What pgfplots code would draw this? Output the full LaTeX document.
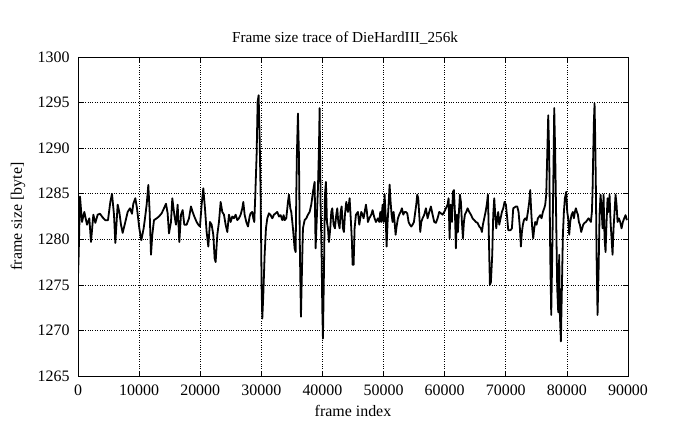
\documentclass[border=0pt]{standalone}
\usepackage{fontspec}
\setmainfont{Liberation Serif}
\usepackage{pgfplots}
\pgfplotsset{compat=1.18}
\begin{document}
\fontsize{16}{18}\selectfont
\begin{tikzpicture}
\begin{axis}[
  scale only axis, width=550bp, height=319bp,
  xmin=0, xmax=90000, ymin=1265, ymax=1300,
  xtick={0,10000,...,90000}, ytick={1265,1270,...,1300},
  scaled x ticks=false,
  /pgf/number format/assume math mode=true,
  /pgf/number format/1000 sep={},
  grid=major, grid style={black, dotted, line width=0.6pt},
  tick align=inside, major tick length=5bp, tick style={black, line width=0.6pt},
  axis line style={line width=0.8pt},
  every tick label/.append style={font=\fontsize{16}{18}\selectfont},
  xticklabel style={yshift=-3bp},
  yticklabel style={xshift=-3bp},
  every axis title shift=0pt,
  title={Frame size trace of DieHardIII\_256k},
  title style={at={(axis description cs:0.4855,1.0596)}, anchor=center, font=\fontsize{15.3}{17}\selectfont},
  xlabel={frame index}, ylabel={frame size [byte]},
  xlabel style={at={(axis description cs:0.5,-0.1097)}, anchor=center, font=\fontsize{16}{18}\selectfont},
  ylabel style={at={(axis description cs:-0.109,0.5)}, anchor=center, font=\fontsize{16}{18}\selectfont},
]
\addplot[black, line width=1.8pt, line join=round] table {
x y
0 1275.9
110 1278.3
327 1284.7
654 1281.9
1036 1283.0
1472 1281.6
1854 1282.3
2127 1279.7
2508 1282.7
2836 1281.8
3218 1282.7
3599 1282.8
4036 1282.4
4472 1282.1
4908 1282.1
5290 1284.1
5562 1285.0
5890 1282.7
6108 1279.6
6490 1283.8
6762 1283.0
7035 1281.6
7308 1280.7
7744 1281.9
8126 1283.0
8507 1283.4
8834 1282.8
9052 1283.9
9380 1284.5
9652 1283.4
10034 1281.2
10361 1279.9
10743 1281.2
10961 1282.3
11234 1283.8
11507 1285.96
11725 1283.0
11943 1278.3
12161 1280.5
12434 1282.1
12870 1282.3
13252 1282.5
13688 1282.85
14070 1283.4
14397 1283.9
14670 1282.85
14888 1280.65
15215 1281.9
15433 1284.5
15760 1282.7
16033 1281.6
16306 1283.8
16578 1279.7
16851 1282.7
17124 1283.2
17396 1281.6
17778 1281.6
18160 1282.3
18487 1283.6
18760 1283.0
19032 1282.5
19414 1281.9
19687 1281.6
19960 1281.4
20232 1283.8
20505 1285.6
20778 1283.4
21050 1280.8
21323 1279.2
21596 1281.9
21869 1281.6
22141 1280.5
22359 1277.9
22523 1277.5
22796 1280.5
23068 1281.9
23341 1284.1
23614 1283.0
23886 1282.7
24159 1281.6
24432 1280.8
24704 1282.7
24977 1281.9
25250 1282.5
25522 1282.3
25795 1282.7
26068 1282.1
26340 1282.3
26613 1282.7
26886 1283.4
27049 1284.1
27268 1282.7
27540 1281.9
27813 1281.4
28086 1282.5
28249 1282.85
28522 1283.0
28686 1282.3
28849 1281.9
29013 1284.9
29231 1289.3
29395 1295.1
29558 1295.8
29722 1291.1
29885 1284.9
30049 1274.6
30158 1271.3
30322 1273.9
30540 1278.3
30758 1281.2
30976 1282.3
31249 1282.85
31522 1282.65
31794 1282.3
32067 1282.7
32340 1282.85
32612 1283.0
32885 1282.5
33158 1282.65
33430 1282.1
33648 1282.65
33811 1282.1
34083 1282.3
34356 1284.1
34520 1284.9
34737 1283.4
34901 1283.0
35174 1281.2
35446 1279.0
35610 1278.6
35719 1284.9
35828 1289.6
35992 1293.8
36155 1289.2
36319 1278.3
36483 1271.5
36646 1276.5
36810 1281.2
37083 1282.1
37355 1282.3
37628 1282.7
37901 1283.0
38173 1283.8
38446 1285.2
38719 1286.3
38882 1279.0
39100 1282.7
39264 1285.6
39428 1290.0
39537 1294.4
39700 1283.8
39864 1278.3
39973 1272.4
40082 1269.1
40246 1276.4
40409 1284.9
40573 1286.3
40736 1281.9
40900 1281.2
41064 1279.7
41282 1281.2
41446 1283.0
41609 1283.4
41827 1281.6
42045 1281.2
42263 1282.7
42427 1283.4
42591 1281.9
42809 1281.2
42972 1283.0
43136 1283.6
43354 1281.2
43518 1280.8
43681 1282.7
43899 1284.1
44172 1283.0
44445 1284.5
44663 1281.9
44826 1279.7
44935 1277.2
45099 1277.2
45263 1281.2
45481 1282.7
45808 1283.0
46026 1281.6
46190 1282.3
46354 1283.0
46572 1282.7
46735 1282.3
47117 1283.8
47281 1283.0
47445 1281.9
47663 1282.3
47990 1282.7
48208 1283.2
48372 1282.7
48535 1282.3
48753 1281.9
49080 1282.3
49298 1281.9
49462 1283.0
49626 1281.9
49844 1283.8
50007 1281.9
50171 1284.9
50335 1282.7
50498 1279.2
50662 1281.9
50826 1283.8
50989 1286.0
51153 1284.1
51316 1282.7
51480 1281.9
51644 1283.0
51807 1281.9
51971 1280.5
52135 1281.4
52352 1282.3
52570 1282.7
52789 1283.0
53006 1283.4
53224 1282.7
53443 1283.0
53661 1283.0
53879 1282.85
54097 1281.9
54315 1281.6
54533 1281.4
54751 1281.6
54970 1281.9
55187 1283.0
55351 1283.8
55515 1284.9
55678 1284.5
55842 1282.7
56006 1280.8
56170 1281.9
56387 1282.3
56660 1282.7
56933 1283.4
57205 1282.3
57478 1283.0
57751 1283.6
58023 1282.7
58296 1281.9
58569 1281.8
58841 1282.3
59114 1283.0
59387 1282.85
59659 1282.7
59932 1283.0
60205 1283.4
60477 1283.8
60641 1284.5
60805 1280.1
60968 1283.8
61187 1281.9
61350 1285.2
61514 1285.4
61677 1283.0
61841 1279.0
62005 1282.7
62168 1280.8
62332 1283.0
62495 1284.9
62659 1284.1
62823 1281.9
62986 1280.1
63150 1281.9
63313 1282.7
63531 1283.0
63750 1283.4
64022 1283.0
64295 1282.7
64568 1282.3
64840 1282.1
65113 1281.9
65386 1281.8
65659 1281.4
65931 1281.2
66094 1280.8
66258 1281.6
66476 1282.3
66694 1283.0
66912 1283.9
67076 1284.9
67185 1281.9
67294 1278.3
67403 1275.0
67567 1275.3
67785 1278.3
67949 1282.7
68113 1284.5
68276 1282.7
68440 1281.2
68603 1282.3
68767 1283.0
68931 1281.6
69149 1282.3
69366 1283.0
69585 1283.4
69803 1284.1
70021 1283.8
70239 1282.3
70403 1281.0
70784 1281.0
71002 1281.2
71221 1283.4
71657 1283.6
71875 1283.6
72093 1283.0
72311 1281.2
72475 1279.2
72639 1280.8
72802 1281.6
72966 1282.1
73184 1282.3
73402 1282.1
73620 1283.0
73838 1284.1
74002 1285.4
74166 1283.0
74329 1281.2
74493 1280.1
74656 1281.2
74820 1281.9
75038 1281.6
75256 1282.3
75474 1282.5
75638 1282.65
75856 1282.3
76074 1283.0
76292 1283.4
76456 1283.8
76620 1284.9
76783 1289.2
76947 1293.6
77110 1289.2
77274 1278.3
77438 1271.7
77601 1278.3
77765 1285.6
77929 1294.4
78092 1289.2
78256 1281.9
78420 1274.6
78583 1272.0
78747 1278.3
78855 1271.7
79019 1268.8
79182 1274.6
79346 1280.5
79510 1283.0
79673 1284.5
79891 1285.2
80055 1283.0
80219 1282.3
80382 1280.5
80546 1281.9
80764 1282.7
80982 1283.0
81146 1282.3
81309 1283.0
81473 1283.4
81636 1283.0
81800 1282.7
81964 1281.9
82127 1281.6
82345 1280.8
82509 1281.2
82673 1281.6
82891 1281.8
83109 1281.9
83327 1282.1
83545 1282.3
83763 1282.1
83927 1281.9
84090 1283.0
84199 1285.2
84308 1289.3
84418 1292.9
84527 1294.9
84636 1291.1
84745 1285.6
84854 1278.3
85018 1271.7
85182 1276.4
85345 1282.7
85509 1284.9
85672 1283.4
85836 1281.2
86000 1284.9
86163 1280.1
86327 1278.6
86490 1281.9
86654 1284.5
86818 1283.0
86981 1284.9
87145 1281.9
87309 1280.1
87472 1278.3
87636 1281.2
87799 1283.0
87963 1284.9
88127 1283.8
88290 1281.9
88508 1282.3
88726 1281.9
88945 1281.2
89162 1281.9
89380 1282.3
89599 1282.65
89817 1282.1
};
\end{axis}
\pgfresetboundingbox
\path[use as bounding box] ([xshift=-78bp,yshift=-53bp]current axis.south west) rectangle ([xshift=67bp,yshift=57bp]current axis.north east);
\end{tikzpicture}
\end{document}
